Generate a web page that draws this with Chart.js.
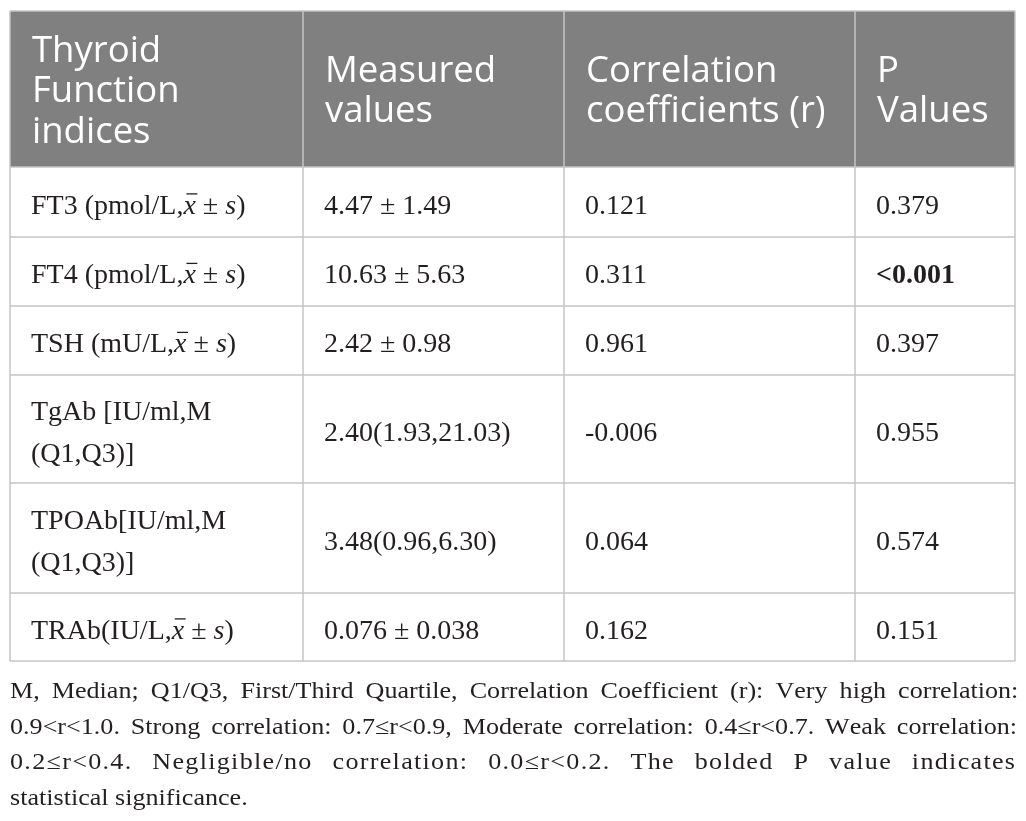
<!DOCTYPE html>
<html>
<head>
<meta charset="utf-8">
<title>Thyroid function indices</title>
<script src="https://cdn.jsdelivr.net/npm/chart.js@4.4.1/dist/chart.umd.min.js"></script>
<style>
  html, body { margin: 0; padding: 0; background: #fff; }
  canvas { display: block; }
</style>
</head>
<body>
<canvas id="tableChart" width="1026" height="821"></canvas>
<script>
// table content ({xbar} and {s} are drawn in italics)
const headers = [
  ["Thyroid", "Function", "indices"],
  ["Measured", "values"],
  ["Correlation", "coefficients (r)"],
  ["P", "Values"]
];
const indices = [
  ["FT3 (pmol/L,{xbar} ± {s})"],
  ["FT4 (pmol/L,{xbar} ± {s})"],
  ["TSH (mU/L,{xbar} ± {s})"],
  ["TgAb [IU/ml,M", "(Q1,Q3)]"],
  ["TPOAb[IU/ml,M", "(Q1,Q3)]"],
  ["TRAb(IU/L,{xbar} ± {s})"]
];
const measuredValues = ["4.47 ± 1.49", "10.63 ± 5.63", "2.42 ± 0.98", "2.40(1.93,21.03)", "3.48(0.96,6.30)", "0.076 ± 0.038"];
const rValues = ["0.121", "0.311", "0.961", "-0.006", "0.064", "0.162"];
const pValues = ["0.379", "<0.001", "0.397", "0.955", "0.574", "0.151"];
const boldP = [false, true, false, false, false, false];
const footnote = [
  "M, Median; Q1/Q3, First/Third Quartile, Correlation Coefficient (r): Very high correlation:",
  "0.9<r<1.0. Strong correlation: 0.7≤r<0.9, Moderate correlation: 0.4≤r<0.7. Weak correlation:",
  "0.2≤r<0.4. Negligible/no correlation: 0.0≤r<0.2. The bolded P value indicates",
  "statistical significance."
];

// layout (in scale units)
const rowHeights = [156, 70, 69, 69, 108, 110, 68];
const colEdges = [0, 293, 554, 845, 1005];
const tableHeight = rowHeights.reduce((a, b) => a + b, 0);

const SERIF = '"Liberation Serif", "Times New Roman", serif';
const SANS = '"Open Sans", "Noto Sans", sans-serif';
const INK = "#231f20";

function drawRich(ctx, str, x, y, size, weight) {
  const parts = str.split(/(\{[^}]+\})/).filter(Boolean);
  let cx = x;
  parts.forEach(p => {
    if (p[0] === "{") {
      const inner = p.slice(1, -1);
      ctx.font = "italic " + size + "px " + SERIF;
      const txt = inner === "xbar" ? "x" : inner;
      ctx.fillText(txt, cx, y);
      const w = ctx.measureText(txt).width;
      if (inner === "xbar") {
        ctx.save();
        ctx.strokeStyle = ctx.fillStyle;
        ctx.lineWidth = 1.3;
        ctx.beginPath();
        ctx.moveTo(cx + 3, y - size * 0.7);
        ctx.lineTo(cx + w + 1.5, y - size * 0.7);
        ctx.stroke();
        ctx.restore();
      }
      cx += w;
    } else {
      ctx.font = (weight || "normal") + " " + size + "px " + SERIF;
      ctx.fillText(p, cx, y);
      cx += ctx.measureText(p).width;
    }
  });
}

// footnote font is wider than Liberation Serif, so stretch it a little;
// loose justified lines also get some letter spacing
function drawJustified(ctx, line, left, right, y, justify, sx) {
  ctx.save();
  ctx.translate(left, y);
  ctx.scale(sx, 1);
  const span = (right - left) / sx;
  const words = line.split(" ");
  if (!justify || words.length < 2) {
    ctx.fillText(line, 0, 0);
  } else {
    const natural = ctx.measureText(line).width;
    const extra = Math.max(0, span - natural);
    const nLetters = words.reduce((a, w) => a + w.length, 0) - words.length;
    const loose = extra / (words.length - 1) > 10;
    const ls = loose ? Math.min(extra * 0.4 / nLetters, 1.5) : 0;
    const space = ctx.measureText(" ").width;
    const gap = space + (extra - ls * nLetters) / (words.length - 1);
    let cx = 0;
    words.forEach(w => {
      for (const ch of w) {
        ctx.fillText(ch, cx, 0);
        cx += ctx.measureText(ch).width + ls;
      }
      cx += gap - ls;
    });
  }
  ctx.restore();
}

const tablePlugin = {
  id: "tablePlugin",
  afterDraw(chart) {
    const { ctx, scales: { x, y } } = chart;
    const px = v => x.getPixelForValue(v);
    const py = v => y.getPixelForValue(v);
    const rowEdges = [0];
    rowHeights.forEach(h => rowEdges.push(rowEdges[rowEdges.length - 1] + h));

    ctx.save();
    // header background
    ctx.fillStyle = "#808080";
    ctx.fillRect(px(0), py(0), px(colEdges[4]) - px(0), py(rowEdges[1]) - py(0));

    // grid lines
    ctx.lineWidth = 1.5;
    ctx.strokeStyle = "#c4c4c4";
    for (let r = 1; r < rowEdges.length; r++) {
      ctx.beginPath();
      ctx.moveTo(px(0), py(rowEdges[r]));
      ctx.lineTo(px(colEdges[4]), py(rowEdges[r]));
      ctx.stroke();
    }
    colEdges.forEach(c => {
      ctx.beginPath();
      ctx.moveTo(px(c), py(0));
      ctx.lineTo(px(c), py(tableHeight));
      ctx.stroke();
    });
    ctx.beginPath();
    ctx.moveTo(px(0), py(0));
    ctx.lineTo(px(colEdges[4]), py(0));
    ctx.stroke();

    // header text
    ctx.fillStyle = "#ffffff";
    ctx.font = "36.5px " + SANS;
    ctx.textBaseline = "alphabetic";
    const hc = (py(rowEdges[0]) + py(rowEdges[1])) / 2;
    headers.forEach((lines, c) => {
      lines.forEach((t, i) => {
        ctx.fillText(t, px(colEdges[c]) + 22, hc + 13 + (i - (lines.length - 1) / 2) * 40.5);
      });
    });

    // body text
    ctx.fillStyle = INK;
    const cols = [indices, measuredValues.map(v => [v]), rValues.map(v => [v]), pValues.map(v => [v])];
    for (let r = 0; r < indices.length; r++) {
      const cy = (py(rowEdges[r + 1]) + py(rowEdges[r + 2])) / 2;
      cols.forEach((col, c) => {
        const lines = col[r];
        const weight = c === 3 && boldP[r] ? "bold" : "normal";
        lines.forEach((t, i) => {
          drawRich(ctx, t, px(colEdges[c]) + 21, cy + 11.5 + (i - (lines.length - 1) / 2) * 42, 28, weight);
        });
      });
    }

    // footnote
    ctx.font = "22.5px " + SERIF;
    const fy = py(tableHeight) + 37;
    footnote.forEach((line, i) => {
      drawJustified(ctx, line, px(0), px(colEdges[4]), fy + i * 35.7, i < footnote.length - 1, 1.16);
    });
    ctx.restore();
  }
};

new Chart(document.getElementById("tableChart"), {
  type: "scatter",
  data: { datasets: [{ data: [] }] },
  options: {
    responsive: false,
    animation: false,
    layout: { padding: { left: 10, right: 11, top: 11, bottom: 821 - 11 - tableHeight } },
    plugins: { legend: { display: false }, tooltip: { enabled: false } },
    scales: {
      x: { type: "linear", min: 0, max: colEdges[4], display: false },
      y: { type: "linear", min: 0, max: tableHeight, reverse: true, display: false }
    }
  },
  plugins: [tablePlugin]
});
</script>
</body>
</html>
